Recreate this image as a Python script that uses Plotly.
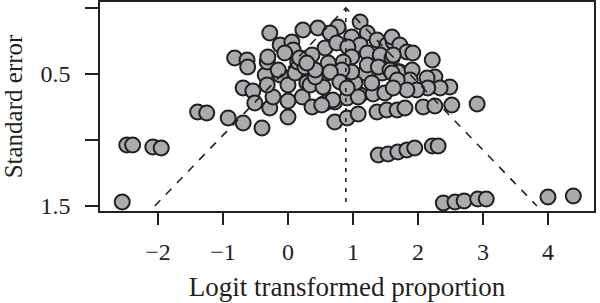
import plotly.graph_objects as go

# Logit transformed proportions (x) and standard errors (y)
x_vals = [
    -2.55, -2.48, -2.39, -2.08, -1.95, -1.39, -1.25, -0.92, -0.69, -0.40,
    2.39, 2.57, 2.71, 2.92, 3.05, 4.00, 4.39, 2.91,
    1.39, 1.54, 1.69, 1.83, 1.95, 2.22, 2.31,
    0.72, 0.91, 1.08, 1.37, 1.52, 1.68, 1.80, 2.08, 2.26, 2.52,
    -0.82, -0.63, -0.62, -0.69, -0.54, -0.51, -0.28, -0.23, 0.00, 0.00,
    -0.35, -0.12, 0.00, -0.32, 0.22, 0.29, 0.11,
    -0.28, 0.23, -0.12, 0.06, 0.08, -0.05, -0.32, -0.31, -0.15, 0.15, 0.26,
    0.34, 0.54, 0.80, 0.57, 0.37, 0.72, 0.91, 1.11, 1.31, 1.49,
    1.19, 1.45, 1.03, 1.29, 0.92, 0.60, 0.42,
    1.11, 1.22, 0.77, 0.46, 0.65, 1.37, 1.52, 1.62, 0.98, 0.57,
    0.75, 1.11, 0.92, 0.37, 1.22, 0.98, 1.42, 1.60, 0.62, 0.85,
    1.22, 1.39, 0.42, 0.98, 0.83, 0.65, 1.57,
    1.60, 1.72, 1.83, 1.92, 2.22, 1.62, 1.72, 1.91, 1.60, 2.26,
    2.14, 1.88, 1.68, 2.49, 2.34, 2.15, 1.98, 1.83, 1.62,
    1.08, 0.69, 0.52, 0.80, 0.91, 0.18, 0.29,
]
se_vals = [
    1.470, 1.038, 1.038, 1.053, 1.061, 0.788, 0.795, 0.833, 0.871, 0.909,
    1.477, 1.470, 1.462, 1.447, 1.447, 1.432, 1.424, 0.727,
    1.114, 1.106, 1.091, 1.076, 1.061, 1.045, 1.045,
    0.864, 0.833, 0.803, 0.788, 0.773, 0.773, 0.758, 0.750, 0.742, 0.735,
    0.379, 0.394, 0.447, 0.606, 0.629, 0.720, 0.758, 0.674, 0.705, 0.826,
    0.508, 0.508, 0.583, 0.583, 0.674, 0.568, 0.492,
    0.189, 0.167, 0.280, 0.258, 0.318, 0.341, 0.409, 0.371, 0.470, 0.409, 0.447,
    0.583, 0.598, 0.545, 0.720, 0.750, 0.712, 0.682, 0.659, 0.652, 0.644,
    0.492, 0.492, 0.568, 0.568, 0.492, 0.492, 0.523,
    0.106, 0.189, 0.144, 0.152, 0.189, 0.242, 0.280, 0.258, 0.220, 0.303,
    0.265, 0.280, 0.295, 0.356, 0.341, 0.371, 0.356, 0.379, 0.417, 0.409,
    0.432, 0.447, 0.470, 0.485, 0.470, 0.485, 0.470,
    0.220, 0.280, 0.333, 0.341, 0.394, 0.356, 0.485, 0.470, 0.492, 0.523,
    0.530, 0.545, 0.545, 0.598, 0.606, 0.606, 0.621, 0.621, 0.606,
    0.674, 0.697, 0.735, 0.561, 0.606, 0.379, 0.417,
]

pooled_estimate = 0.89
se_max = 1.5
z_crit = 1.96

x_ticks = [-2, -1, 0, 1, 2, 3, 4]
x_tick_labels = ["\u22122", "\u22121", "0", "1", "2", "3", "4"]
y_ticks = [0, 0.5, 1.0, 1.5]
y_tick_labels = ["", "0.5", "", "1.5"]

font_family = "Liberation Serif"
ink = "#231f20"

fig = go.Figure()

fig.add_trace(go.Scatter(
    x=x_vals, y=se_vals, mode="markers",
    marker=dict(size=15, color="#a9abae", line=dict(color=ink, width=2)),
    hoverinfo="skip", showlegend=False,
))

# Funnel (pseudo confidence) lines
fig.add_trace(go.Scatter(
    x=[pooled_estimate - z_crit * se_max, pooled_estimate, pooled_estimate + z_crit * se_max],
    y=[se_max, 0, se_max],
    mode="lines", line=dict(color=ink, width=1.6, dash="8px,8px"),
    hoverinfo="skip", showlegend=False,
))
fig.add_trace(go.Scatter(
    x=[pooled_estimate, pooled_estimate], y=[0, se_max],
    mode="lines", line=dict(color=ink, width=1.6, dash="4px,6px"),
    hoverinfo="skip", showlegend=False,
))

fig.update_layout(
    width=600, height=303,
    margin=dict(l=100, r=6, t=2, b=92),
    paper_bgcolor="white", plot_bgcolor="white",
    font=dict(family=font_family, color=ink, size=24),
    xaxis=dict(
        range=[-2.892, 4.708],
        tickvals=x_ticks, ticktext=x_tick_labels,
        showline=True, linecolor=ink, linewidth=1.6, mirror=True,
        ticks="outside", ticklen=12, tickwidth=1.6, tickcolor=ink,
        ticklabelstandoff=6,
        showgrid=False, zeroline=False,
        tickfont=dict(size=24),
        title=dict(text="Logit transformed proportion", font=dict(size=27), standoff=14),
        automargin=False,
    ),
    yaxis=dict(
        range=[1.538, -0.045],
        tickvals=y_ticks, ticktext=y_tick_labels,
        showline=True, linecolor=ink, linewidth=1.6, mirror=True,
        ticks="outside", ticklen=13, tickwidth=1.6, tickcolor=ink,
        ticklabelstandoff=10,
        showgrid=False, zeroline=False,
        tickfont=dict(size=24),
        title=dict(text="Standard error", font=dict(size=25), standoff=16),
        automargin=False,
    ),
)

fig.write_html("out.html")
